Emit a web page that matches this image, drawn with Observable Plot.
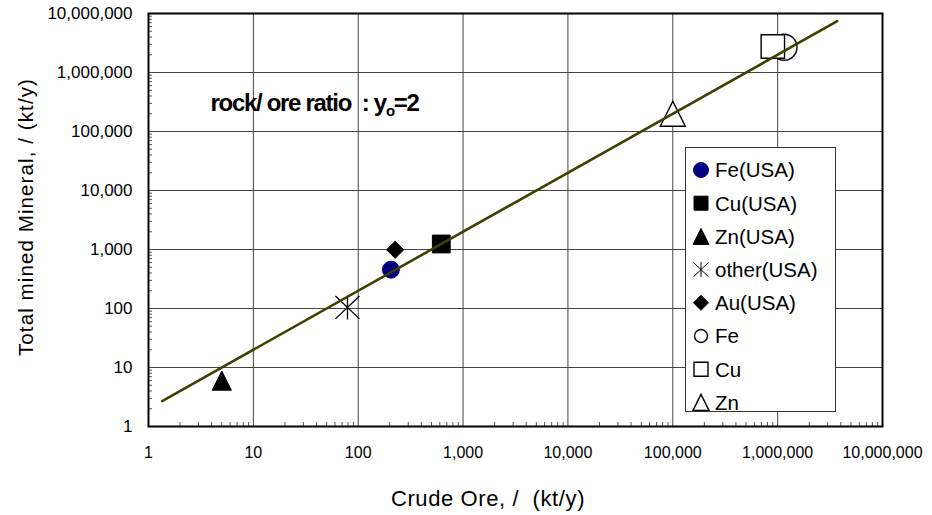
<!DOCTYPE html>
<html><head><meta charset="utf-8">
<script src="https://cdn.jsdelivr.net/npm/d3@7"></script>
<script src="https://cdn.jsdelivr.net/npm/@observablehq/plot@0.6"></script>
<style>
body{margin:0;background:#fff;font-family:"Liberation Sans",Arial,sans-serif;}
</style></head><body><div id="chart"></div>
<script>
// ---- data ----
const seriesNames = ["Fe(USA)","Cu(USA)","Zn(USA)","other(USA)","Au(USA)","Fe","Cu","Zn"];
const crudeOre   = [205, 620, 5, 79, 225, 1150000, 900000, 100000];
const totalMined = [455, 1240, 6, 104, 990, 2680000, 2760000, 200000];
const markerKind = ["circle","square","triangle","asterisk","diamond","circle","square","triangle"];
const markerFill = ["#000080","#000","#000","none","#000","#fff","#fff","#fff"];
const markerStroke = ["#000080","#000","#000","#000","#000","#000","#000","#000"];
const markerSize = [8.5, 8.9, 9.6, 12, 8.6, 13, 11.7, 12.5];
const legendSize = [7.5, 7, 8, 7.5, 7.5, 6.5, 7, 8];
const fitX = [1.35, 3700000];
const fitY = [2.7, 7400000];
const decadeTicks = [1, 10, 100, 1e3, 1e4, 1e5, 1e6, 1e7];
const tickLabels = ["1","10","100","1,000","10,000","100,000","1,000,000","10,000,000"];
const xTitle = "Crude Ore, /  (kt/y)";
const yTitle = "Total mined Mineral, / (kt/y)";
const noteText = ["rock/ ore ratio  : y", "o", "=2"];
const noteAt = {x: 3.9, y: 300000};

const minorTicks = [];
for (let k = 0; k < 7; k++) for (let m = 2; m <= 9; m++) minorTicks.push(m * decadeTicks[k]);
const fmt = v => tickLabels[decadeTicks.indexOf(v)];

// ---- custom symbols (r = half extent) ----
const half = size => Math.sqrt(size / Math.PI);
const SYM = {
  circle: "circle",
  square: {draw(c, s){const r = half(s); c.rect(-r, -r, 2*r, 2*r);}},
  triangle: {draw(c, s){const r = half(s); c.moveTo(0,-r); c.lineTo(r,r); c.lineTo(-r,r); c.closePath();}},
  diamond: {draw(c, s){const r = half(s); c.moveTo(0,-r); c.lineTo(r,0); c.lineTo(0,r); c.lineTo(-r,0); c.closePath();}},
  asterisk: {draw(c, s){const r = half(s); c.moveTo(0,-r); c.lineTo(0,r); c.moveTo(-r,-r*0.95); c.lineTo(r,r*0.95); c.moveTo(-r,r*0.95); c.lineTo(r,-r*0.95);}}
};

const dotMarks = seriesNames.map((name, i) => Plot.dot([i], {
  x: j => crudeOre[j], y: j => totalMined[j],
  symbol: SYM[markerKind[i]], r: markerSize[i],
  fill: markerFill[i], stroke: markerStroke[i],
  strokeWidth: markerFill[i] === "#fff" ? 1.4 : (markerKind[i] === "asterisk" ? 1.3 : 1)
}));

const chart = Plot.plot({
  width: 932, height: 515,
  marginLeft: 148, marginRight: 50, marginTop: 13, marginBottom: 89,
  style: {fontFamily: "Liberation Sans, Arial, sans-serif", background: "#fff", color: "#000"},
  x: {type: "log", domain: [1, 1e7]},
  y: {type: "log", domain: [1, 1e7]},
  marks: [
    Plot.gridX(decadeTicks, {stroke: "#444", strokeOpacity: 1, strokeWidth: 1}),
    Plot.gridY(decadeTicks, {stroke: "#444", strokeOpacity: 1, strokeWidth: 1}),
    Plot.axisX(minorTicks, {tickSize: -4, tickFormat: () => "", label: null, stroke: "#555"}),
    Plot.axisY(minorTicks, {tickSize: -4, tickFormat: () => "", label: null, stroke: "#555"}),
    Plot.axisX(decadeTicks, {tickSize: 0, tickPadding: 20, tickFormat: fmt, fontSize: 16, label: null}),
    Plot.axisY(decadeTicks, {tickSize: 0, tickPadding: 16, tickFormat: fmt, fontSize: 17, label: null}),
    ...dotMarks,
    Plot.line(fitX.map((x, i) => ({x, y: fitY[i]})), {x: "x", y: "y", stroke: "#3f3f00", strokeWidth: 2.6}),
    Plot.text([noteAt], {x: "x", y: "y", text: () => noteText[0], textAnchor: "start", fontSize: 24, fontWeight: "bold"}),
    Plot.frame({stroke: "#000", strokeWidth: 2})
  ]
});
document.getElementById("chart").appendChild(chart);

const svg = d3.select(chart);
// subscript in note
svg.selectAll("text").filter(function(){return this.textContent === noteText[0];}).each(function(){
  const t = d3.select(this).style("white-space", "pre").attr("letter-spacing", "-1.3");
  t.text(null);
  t.append("tspan").text(noteText[0]);
  t.append("tspan").attr("font-size", 15).attr("dy", 5).text(noteText[1]);
  t.append("tspan").attr("dy", -5).text(noteText[2]);
});

// axis titles
svg.append("text").attr("transform", "translate(26,217) rotate(-90)")
  .attr("text-anchor", "middle").attr("dy", "0.35em").attr("font-size", 20.5)
  .attr("letter-spacing", "1.1").style("white-space", "pre").text(yTitle);
svg.append("text").attr("x", 488).attr("y", 498)
  .attr("text-anchor", "middle").attr("dy", "0.35em").attr("font-size", 22)
  .attr("letter-spacing", "0.6").style("white-space", "pre").text(xTitle);

// legend
const lg = svg.append("g").attr("font-size", 20).attr("text-anchor", "start")
  .attr("font-family", "Liberation Sans, Arial, sans-serif");
lg.append("rect").attr("x", 685.5).attr("y", 147.5).attr("width", 150).attr("height", 264)
  .attr("fill", "#fff").attr("stroke", "#333").attr("stroke-width", 1);
seriesNames.forEach((name, i) => {
  const cy = 170 + i * 33.2;
  const k = markerKind[i];
  const size = Math.PI * legendSize[i] ** 2;
  const typ = k === "circle" ? d3.symbolCircle : SYM[k];
  lg.append("path").attr("transform", `translate(701,${cy})`)
    .attr("d", d3.symbol(typ, size)())
    .attr("fill", markerFill[i]).attr("stroke", markerStroke[i])
    .attr("stroke-width", markerFill[i] === "#fff" ? 1.4 : 1);
  lg.append("text").attr("x", 715).attr("y", cy).attr("dy", "0.36em")
    .attr("text-anchor", "start").attr("font-size", 20.5).text(name);
});
</script></body></html>
